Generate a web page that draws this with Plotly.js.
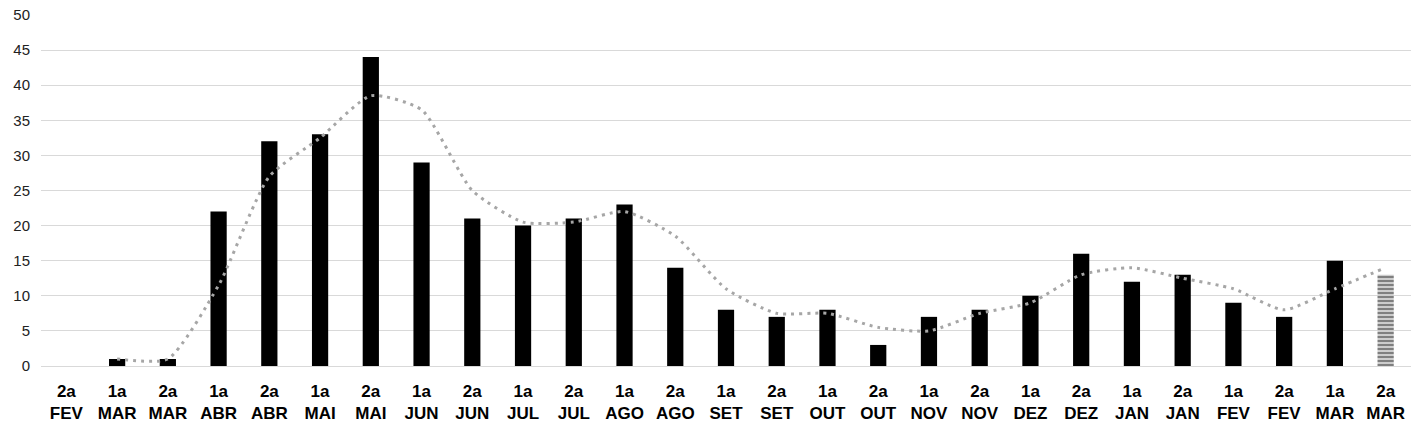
<!DOCTYPE html>
<html>
<head>
<meta charset="utf-8">
<script src="https://cdn.plot.ly/plotly-3.0.1.min.js"></script>
<style>html,body{margin:0;padding:0;background:#fff;}#chart{width:1420px;height:430px;}</style>
</head>
<body>
<div id="chart"></div>
<script>
var periods = ["2a","1a","2a","1a","2a","1a","2a","1a","2a","1a","2a","1a","2a","1a","2a","1a","2a","1a","2a","1a","2a","1a","2a","1a","2a","1a","2a"];
var months = ["FEV","MAR","MAR","ABR","ABR","MAI","MAI","JUN","JUN","JUL","JUL","AGO","AGO","SET","SET","OUT","OUT","NOV","NOV","DEZ","DEZ","JAN","JAN","FEV","FEV","MAR","MAR"];
var cases = [0,1,1,22,32,33,44,29,21,20,21,23,14,8,7,8,3,7,8,10,16,12,13,9,7,15,13];
var trend = [null,1,1,11.5,27,32.5,38.5,36.5,25,20.5,20.5,22,18.5,11,7.5,7.5,5.5,5,7.5,9,13,14,12.5,11,8,11,14];

var xIdx = cases.map(function(_, i){ return i; });
var tickText = periods.map(function(p, i){ return p + "<br>" + months[i]; });

var solidBars = cases.map(function(v, i){ return i < cases.length - 1 ? v : null; });
var lastBar = cases.map(function(v, i){ return i === cases.length - 1 ? v : null; });

var traces = [
  {type:"bar", x:xIdx, y:solidBars, marker:{color:"#000000"}, hoverinfo:"skip", showlegend:false},
  {type:"bar", x:xIdx, y:lastBar, marker:{color:"#ffffff", line:{width:0},
    pattern:{shape:"-", fgcolor:"#000000", bgcolor:"#ffffff", size:4, solidity:0.7, fillmode:"overlay"}},
    hoverinfo:"skip", showlegend:false},
  {type:"scatter", mode:"lines", x:xIdx, y:trend, line:{color:"#a6a6a6", width:3, dash:"3px,5px", shape:"spline", smoothing:0.6},
    connectgaps:false, hoverinfo:"skip", showlegend:false}
];

var layout = {
  width:1420, height:430,
  margin:{l:41, r:9, t:15, b:64},
  paper_bgcolor:"#ffffff", plot_bgcolor:"#ffffff",
  barmode:"overlay", bargap:0.68,
  showlegend:false,
  xaxis:{
    range:[-0.5, cases.length - 0.5],
    tickmode:"array", tickvals:xIdx, ticktext:tickText,
    showgrid:false, zeroline:false, showline:false, ticks:"",
    tickfont:{family:"Liberation Sans, Arial, sans-serif", size:17, color:"#000000", weight:600},
    ticklabelstandoff:13
  },
  yaxis:{
    range:[0, 50], tickmode:"linear", tick0:0, dtick:5,
    showgrid:true, gridcolor:"#d9d9d9", gridwidth:1,
    zeroline:true, zerolinecolor:"#d9d9d9", zerolinewidth:1,
    showline:false, ticks:"",
    tickfont:{family:"Liberation Sans, Arial, sans-serif", size:15, color:"#222222"},
    ticklabelstandoff:10
  }
};

Plotly.newPlot("chart", traces, layout, {displayModeBar:false, staticPlot:true});
</script>
</body>
</html>
